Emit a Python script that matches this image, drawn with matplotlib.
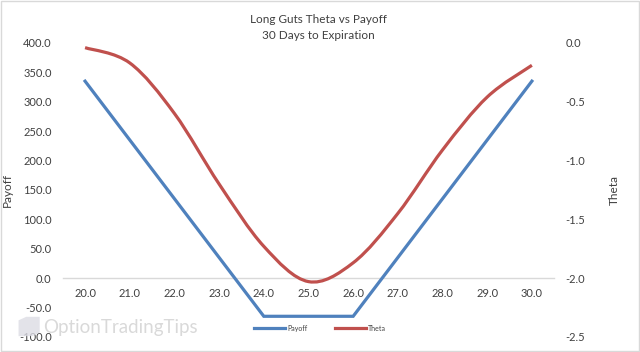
import numpy as np
import matplotlib.pyplot as plt
from matplotlib.path import Path
from matplotlib.patches import PathPatch, Rectangle, Polygon
from matplotlib.lines import Line2D

# data
prices = [20.0, 21.0, 22.0, 23.0, 24.0, 25.0, 26.0, 27.0, 28.0, 29.0, 30.0]
payoff = [335, 235, 135, 35, -65, -65, -65, 35, 135, 235, 335]
theta = [-0.04, -0.17, -0.60, -1.20, -1.73, -2.03, -1.87, -1.45, -0.91, -0.46, -0.19]

left_ticks = [-100, -50, 0, 50, 100, 150, 200, 250, 300, 350, 400]
right_ticks = [-2.5, -2.0, -1.5, -1.0, -0.5, 0.0]

blue = '#4F81BD'
red = '#C0504D'
txt = '#404040'

plt.rcParams['font.family'] = ['Lato', 'DejaVu Sans']


def smooth_path(xs, ys):
    # excel-like smoothed line: cubic bezier through every point
    pts = np.column_stack([xs, ys]).astype(float)
    n = len(pts)
    verts = [pts[0]]
    codes = [Path.MOVETO]
    for i in range(n - 1):
        p0 = pts[i - 1] if i > 0 else pts[i]
        p1 = pts[i]
        p2 = pts[i + 1]
        p3 = pts[i + 2] if i + 2 < n else pts[i + 1]
        c1 = p1 + (p2 - p0) / 6.0
        c2 = p2 - (p3 - p1) / 6.0
        verts += [c1, c2, p2]
        codes += [Path.CURVE4] * 3
    return Path(verts, codes)


fig = plt.figure(figsize=(6.4, 3.52), dpi=100)
fig.patches.append(Rectangle((0.001, 0.002), 0.997, 0.995, transform=fig.transFigure,
                             fill=False, edgecolor='#D9D9D9', lw=1))
ax = fig.add_axes([0.098, 0.043, 0.768, 0.835])
ax2 = ax.twinx()

ax.plot(prices, payoff, color=blue, lw=2.3, solid_joinstyle='miter', zorder=3)
ax2.add_patch(PathPatch(smooth_path(prices, theta), facecolor='none',
                        edgecolor=red, lw=2.3, zorder=3))

ax.set_xlim(19.5, 30.5)
ax.set_ylim(-100, 400)
ax2.set_ylim(-2.5, 0)

ax.set_xticks(prices)
ax.set_xticklabels([f'{p:.1f}' for p in prices])
ax.set_yticks(left_ticks)
ax.set_yticklabels([f'{v:.1f}' for v in left_ticks])
ax2.set_yticks(right_ticks)
ax2.set_yticklabels([f'{v:.1f}' for v in right_ticks])

for a in (ax, ax2):
    for s in ('top', 'left', 'right', 'bottom'):
        a.spines[s].set_visible(False)
    a.patch.set_visible(False)
ax.spines['bottom'].set_visible(True)
ax.spines['bottom'].set_position(('data', 0))
ax.spines['bottom'].set_color('#D9D9D9')
ax.spines['bottom'].set_linewidth(1)

ax.tick_params(axis='x', length=0, pad=7, labelsize=8, labelcolor=txt)
ax.tick_params(axis='y', length=0, pad=8, labelsize=8, labelcolor=txt)
ax2.tick_params(axis='y', length=0, pad=8, labelsize=8, labelcolor=txt)

ax.set_ylabel('Payoff', fontsize=8.5, color=txt)
ax2.set_ylabel('Theta', fontsize=8.5, color=txt, rotation=90)
ax.yaxis.set_label_coords(-0.102, 0.5)
ax2.yaxis.set_label_coords(1.111, 0.5)

fig.text(0.497, 0.945, 'Long Guts Theta vs Payoff', ha='center', va='center',
         fontsize=8.5, color=txt)
fig.text(0.497, 0.9, '30 Days to Expiration', ha='center', va='center',
         fontsize=8.5, color=txt)

# watermark
fig.patches.append(Polygon([(0.029, 0.045), (0.029, 0.09), (0.041, 0.1), (0.062, 0.1),
                            (0.062, 0.055), (0.05, 0.045)], closed=True,
                           transform=fig.transFigure, facecolor='#DCDCE4',
                           edgecolor='none', alpha=0.8))
fig.text(0.067, 0.071, 'OptionTradingTips', ha='left', va='center', fontsize=13.5,
         color='#D0D0D0', alpha=0.8)

handles = [Line2D([], [], color=blue, lw=2.3), Line2D([], [], color=red, lw=2.3)]
fig.legend(handles, ['Payoff', 'Theta'], loc='center', bbox_to_anchor=(0.5, 0.068),
           ncol=2, frameon=False, fontsize=5, handlelength=4.5, columnspacing=4,
           handletextpad=0.3, labelcolor=txt)

fig.savefig('out.png', dpi=100)
